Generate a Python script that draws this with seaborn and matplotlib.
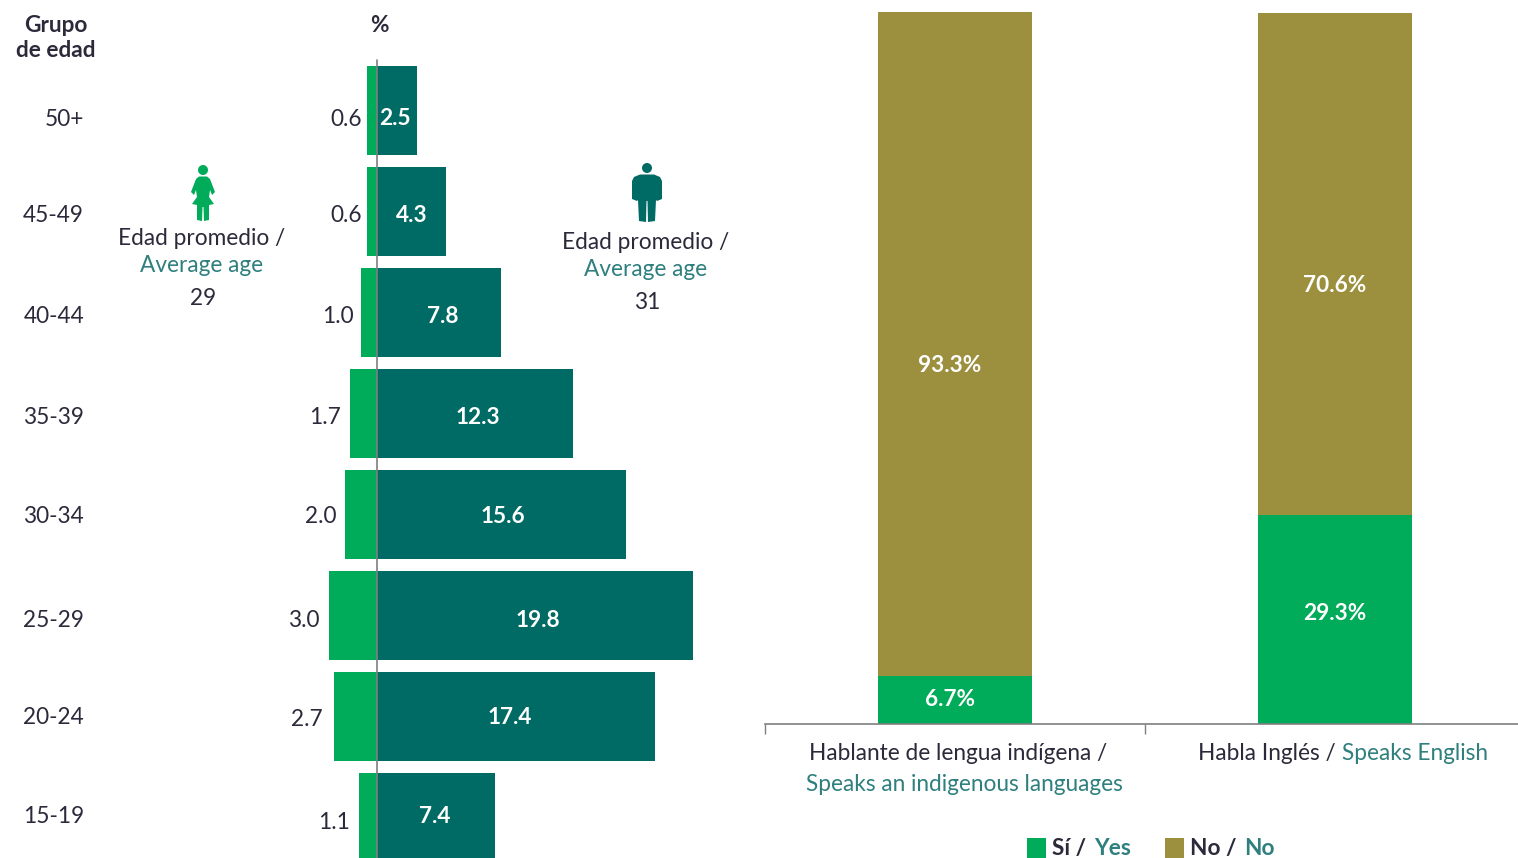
import matplotlib
matplotlib.use('Agg')
import matplotlib.pyplot as plt
import seaborn as sns
from matplotlib.patches import Circle, Polygon, Rectangle
from matplotlib.transforms import ScaledTranslation

sns.set_theme(style='white')
plt.rcParams['font.family'] = ['Lato', 'DejaVu Sans']

# data
age_groups = ['50+', '45-49', '40-44', '35-39', '30-34', '25-29', '20-24', '15-19']
women = [0.6, 0.6, 1.0, 1.7, 2.0, 3.0, 2.7, 1.1]
men = [2.5, 4.3, 7.8, 12.3, 15.6, 19.8, 17.4, 7.4]
languages = ['Hablante de lengua indígena', 'Habla Inglés']
yes_pct = [6.7, 29.3]
no_pct = [93.3, 70.6]

GREEN = '#00AB59'
TEAL = '#006B64'
OLIVE = '#9C8F3E'
DARK = '#2C2A3A'
BLUE_TXT = '#2E7F7D'
GREY = '#7F7F7F'
FS = 16.3
W, H = 1518, 858
PT = 0.72  # points per pixel at dpi 100


def px_axes(left, top, right, bottom):
    return fig.add_axes([left / W, 1 - bottom / H, (right - left) / W, (bottom - top) / H])


fig = plt.figure(figsize=(W / 100, H / 100), dpi=100, facecolor='white')

# pyramid
ax = px_axes(100, 0, 760, 858)
sns.barplot(x=[-v for v in women], y=age_groups, orient='h', color=GREEN, saturation=1,
            width=0.875, errorbar=None, linewidth=0, ax=ax)
sns.barplot(x=men, y=age_groups, orient='h', color=TEAL, saturation=1,
            width=0.875, errorbar=None, linewidth=0, ax=ax)
ax.set_xlim((100 - 377) / 15.95, (760 - 377) / 15.95)
ax.set_ylim((858 - 110.5) / 101, -110.5 / 101)
w_labels = ax.bar_label(ax.containers[0], labels=[f'{v:.1f}' for v in women], padding=5.5,
                        fontsize=FS, color=DARK)
m_labels = ax.bar_label(ax.containers[1], labels=[f'{v:.1f}' for v in men], label_type='center',
                        fontsize=FS, color='white', fontweight='bold')
# the printed labels are not centred exactly, offsets in px (right, down)
w_nudge = [(2, 9), (2, 4), (0, 4), (-1, 4), (-1, 2), (-2, 5), (-4, 3), (-2, 5)]
m_nudge = [(-2, 8), (0, 4), (4, 4), (3, 4), (1, 2), (3, 5), (-6, 1), (-1, 1)]
for lab, (dx, dy) in zip(w_labels, w_nudge):
    x0, y0 = lab.xyann
    lab.xyann = (x0 + dx * PT, y0 - dy * PT)
for lab, (dx, dy) in zip(m_labels, m_nudge):
    x0, y0 = lab.xyann
    lab.xyann = (x0 + dx * PT, y0 - dy * PT)
ax.axvline(0, ymin=0, ymax=1 - 60 / 858, color=GREY, lw=1.2)
ax.set_xticks([])
ax.tick_params(axis='y', length=0, pad=11.5, labelsize=FS, labelcolor=DARK)
age_nudge = [-7, -2, -2, -2, 0, -3, 1, 3]
for lab, dy in zip(ax.get_yticklabels(), age_nudge):
    lab.set_transform(lab.get_transform() + ScaledTranslation(0, dy / 100, fig.dpi_scale_trans))
sns.despine(ax=ax, left=True, bottom=True)
ax.patch.set_visible(False)

# stacked bars
ax2 = px_axes(765, 0, 1518, 724)
sns.barplot(x=languages, y=yes_pct, color=GREEN, saturation=1, width=0.407, errorbar=None,
            linewidth=0, ax=ax2)
sns.barplot(x=languages, y=no_pct, bottom=yes_pct, color=OLIVE, saturation=1, width=0.407,
            errorbar=None, linewidth=0, ax=ax2)
ax2.set_xlim(-0.5, -0.5 + (1518 - 765) / 380)
ax2.set_ylim(0, 724 / 7.12)
ax2.set_xticks([-0.5, 0.5])
ax2.set_xticklabels(['', ''])
ax2.set_yticks([])
ax2.tick_params(axis='x', length=7, width=1, color=GREY, bottom=True)
ax2.set_xlabel('')
sns.despine(ax=ax2, left=True)
ax2.spines['bottom'].set_color(GREY)
ax2.spines['bottom'].set_linewidth(1.2)
ax2.patch.set_visible(False)

# px offsets (right, up) from the middle of each segment
yes_nudge = [(-5, 1), (0, 6)]
no_nudge = [(-5, -21), (0, -21)]
for i in range(2):
    ax2.annotate(f'{yes_pct[i]}%', (i, yes_pct[i] / 2), xytext=yes_nudge[i],
                 textcoords='offset pixels', ha='center', va='center', color='white',
                 fontsize=FS, fontweight='bold')
    ax2.annotate(f'{no_pct[i]}%', (i, yes_pct[i] + no_pct[i] / 2), xytext=no_nudge[i],
                 textcoords='offset pixels', ha='center', va='center', color='white',
                 fontsize=FS, fontweight='bold')

# free text and icons, in pixel coordinates
over = fig.add_axes([0, 0, 1, 1], zorder=5)
over.set_xlim(0, W)
over.set_ylim(H, 0)
over.axis('off')


def txt(x, y, s, color=DARK, ha='center', **kw):
    over.text(x, y + 1.5, s, color=color, ha=ha, va='center', fontsize=FS, **kw)


txt(56, 24, 'Grupo', fontweight='bold')
txt(56, 49, 'de edad', fontweight='bold')
txt(379, 24, '%', fontweight='bold')

txt(202, 237, 'Edad promedio /')
txt(202, 264, 'Average age', color=BLUE_TXT)
txt(203, 297, '29')
txt(646, 241, 'Edad promedio /')
txt(646, 268, 'Average age', color=BLUE_TXT)
txt(647, 301, '31')

txt(958, 752, 'Hablante de lengua indígena /')
txt(964, 783, 'Speaks an indigenous languages', color=BLUE_TXT)
txt(1336, 752, 'Habla Inglés /', ha='right')
txt(1342, 752, 'Speaks English', color=BLUE_TXT, ha='left')

over.add_patch(Rectangle((1027, 838), 19, 20, color=GREEN, lw=0))
txt(1052, 847, 'Sí /', ha='left', fontweight='bold')
txt(1094, 847, 'Yes', color=BLUE_TXT, ha='left', fontweight='bold')
over.add_patch(Rectangle((1165, 838), 19, 20, color=OLIVE, lw=0))
txt(1190, 847, 'No /', ha='left', fontweight='bold')
txt(1244, 847, 'No', color=BLUE_TXT, ha='left', fontweight='bold')


def woman(x, y):
    over.add_patch(Circle((x + 15, y + 5), 5, color=GREEN, lw=0))
    pts = [(11, 11.5), (19, 11.5), (22, 14), (27, 27), (24, 30), (22, 25), (21, 32), (26, 39),
           (21, 40), (21, 55), (16, 56), (15.5, 42), (14.5, 42), (14, 56), (9, 55), (9, 40),
           (4, 39), (9, 32), (8, 25), (6, 30), (3, 27), (8, 14)]
    over.add_patch(Polygon([(x + a, y + b) for a, b in pts], color=GREEN, lw=0))


def man(x, y):
    over.add_patch(Circle((x + 15, y + 5), 5, color=TEAL, lw=0))
    pts = [(8, 11.5), (22, 11.5), (28, 14), (30, 18), (30, 36), (25, 38), (24, 37), (23, 58),
           (16, 59), (15.5, 38), (14.5, 38), (14, 59), (7, 58), (6, 37), (5, 38), (0, 36),
           (0, 18), (2, 14)]
    over.add_patch(Polygon([(x + a, y + b) for a, b in pts], color=TEAL, lw=0))


woman(188, 165)
man(632, 163)

fig.savefig('out.png', dpi=100)
